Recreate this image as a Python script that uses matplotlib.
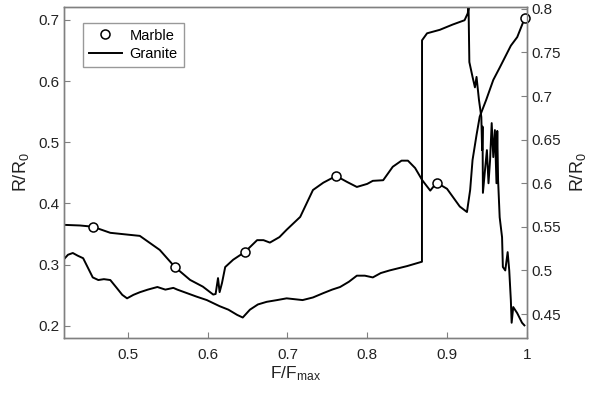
import matplotlib
matplotlib.use('Agg')
import matplotlib.pyplot as plt
from matplotlib.lines import Line2D

plt.rcParams['font.family'] = ['Liberation Sans', 'DejaVu Sans']
plt.rcParams['mathtext.default'] = 'regular'

# Marble (left axis)
marble_x = [0.42, 0.44, 0.456, 0.478, 0.50, 0.515, 0.54, 0.559, 0.578, 0.594,
            0.603, 0.607, 0.610, 0.613, 0.615, 0.618, 0.622, 0.632, 0.647, 0.662,
            0.670, 0.678, 0.690, 0.699, 0.716, 0.732, 0.745, 0.761, 0.775, 0.787,
            0.80, 0.807, 0.82, 0.832, 0.843, 0.851, 0.860, 0.869, 0.879, 0.887,
            0.90, 0.916, 0.925, 0.929, 0.932, 0.937, 0.941, 0.949, 0.958, 0.966,
            0.973, 0.980, 0.988, 0.995, 0.998]
marble_y = [0.365, 0.364, 0.362, 0.352, 0.349, 0.347, 0.324, 0.296, 0.275, 0.264,
            0.255, 0.251, 0.252, 0.278, 0.255, 0.27, 0.296, 0.308, 0.321, 0.34,
            0.34, 0.336, 0.345, 0.357, 0.378, 0.422, 0.434, 0.445, 0.435, 0.427,
            0.432, 0.437, 0.438, 0.46, 0.47, 0.47, 0.458, 0.438, 0.421, 0.434,
            0.424, 0.395, 0.386, 0.422, 0.471, 0.512, 0.542, 0.569, 0.602, 0.622,
            0.640, 0.658, 0.672, 0.695, 0.703]
marble_mk_x = [0.456, 0.559, 0.647, 0.761, 0.887, 0.998]
marble_mk_y = [0.362, 0.296, 0.321, 0.445, 0.434, 0.703]

# Granite (right axis)
granite_x = [0.42, 0.425, 0.431, 0.437, 0.444, 0.450, 0.456, 0.463, 0.470, 0.478,
             0.486, 0.493, 0.499, 0.507, 0.515, 0.525, 0.537, 0.547, 0.557, 0.562,
             0.574, 0.586, 0.599, 0.615, 0.626, 0.637, 0.644, 0.653, 0.663, 0.674,
             0.687, 0.699, 0.719, 0.732, 0.745, 0.756, 0.766, 0.777, 0.787, 0.797,
             0.807, 0.817, 0.828, 0.850, 0.8686, 0.8687, 0.875, 0.891, 0.907, 0.922,
             0.926, 0.927, 0.928, 0.932, 0.935, 0.937, 0.940, 0.943, 0.944, 0.9445,
             0.945, 0.948, 0.950, 0.952, 0.954, 0.956, 0.958, 0.960, 0.962, 0.963,
             0.964, 0.966, 0.969, 0.970, 0.973, 0.976, 0.978, 0.980, 0.981, 0.983,
             0.988, 0.994, 0.997]
granite_y = [0.513, 0.518, 0.520, 0.517, 0.514, 0.503, 0.492, 0.489, 0.490, 0.489,
             0.480, 0.472, 0.468, 0.472, 0.475, 0.478, 0.481, 0.478, 0.480, 0.478,
             0.474, 0.470, 0.466, 0.459, 0.455, 0.449, 0.446, 0.455, 0.461, 0.464,
             0.466, 0.468, 0.466, 0.469, 0.474, 0.478, 0.481, 0.487, 0.494, 0.494,
             0.492, 0.497, 0.500, 0.505, 0.510, 0.764, 0.772, 0.776, 0.782, 0.787,
             0.795, 0.802, 0.739, 0.722, 0.710, 0.722, 0.696, 0.676, 0.638, 0.665,
             0.589, 0.619, 0.638, 0.600, 0.627, 0.669, 0.630, 0.661, 0.600, 0.660,
             0.604, 0.561, 0.538, 0.504, 0.500, 0.521, 0.500, 0.466, 0.440, 0.458,
             0.451, 0.440, 0.437]

left_ticks = [0.2, 0.3, 0.4, 0.5, 0.6, 0.7]
right_ticks = [0.45, 0.5, 0.55, 0.6, 0.65, 0.7, 0.75, 0.8]
x_ticks = [0.5, 0.6, 0.7, 0.8, 0.9, 1.0]

fig = plt.figure(figsize=(6, 3.97), dpi=100)
ax = fig.add_axes([0.1067, 0.1486, 0.7713, 0.8334])
ax2 = ax.twinx()

ax.plot(marble_x, marble_y, color='black', lw=1.4)
ax.plot(marble_mk_x, marble_mk_y, 'o', ms=6.5, mfc='white', mec='black', mew=1.1,
        clip_on=False, zorder=5)
ax2.plot(granite_x, granite_y, color='black', lw=1.4)

ax.set_xlim(0.42, 1.0)
ax.set_ylim(0.18, 0.721)
ax2.set_ylim(0.4225, 0.802)

ax.set_xticks(x_ticks)
ax.set_xticklabels(['0.5', '0.6', '0.7', '0.8', '0.9', '1'])
ax.set_yticks(left_ticks)
ax.set_yticklabels([f'{t:g}' for t in left_ticks])
ax2.set_yticks(right_ticks)
ax2.set_yticklabels([f'{t:g}' for t in right_ticks])

for a in (ax, ax2):
    for s in a.spines.values():
        s.set_color('#808080')
        s.set_linewidth(1.0)
    a.tick_params(direction='in', length=4, width=0.8, color='#808080',
                  labelsize=11, labelcolor='#222222')
ax.tick_params(axis='x', pad=7)

ax.set_xlabel(r'F/F$_{max}$', fontsize=12.5, color='#222222', labelpad=2)
ax.set_ylabel(r'R/R$_0$', fontsize=13, color='#222222', labelpad=5)
ax2.set_ylabel(r'R/R$_0$', fontsize=13, color='#222222', labelpad=5)

handles = [Line2D([], [], ls='none', marker='o', ms=6.5, mfc='white', mec='black', mew=1.1),
           Line2D([], [], color='black', lw=1.4)]
leg = ax.legend(handles, ['Marble', 'Granite'], loc='upper left',
                bbox_to_anchor=(0.025, 0.975), fancybox=False, fontsize=10.5,
                handlelength=2.3, borderpad=0.4, labelspacing=0.3, handletextpad=0.5)
leg.get_frame().set_edgecolor('#808080')
leg.get_frame().set_linewidth(1.0)

fig.savefig('out.png', dpi=100)
